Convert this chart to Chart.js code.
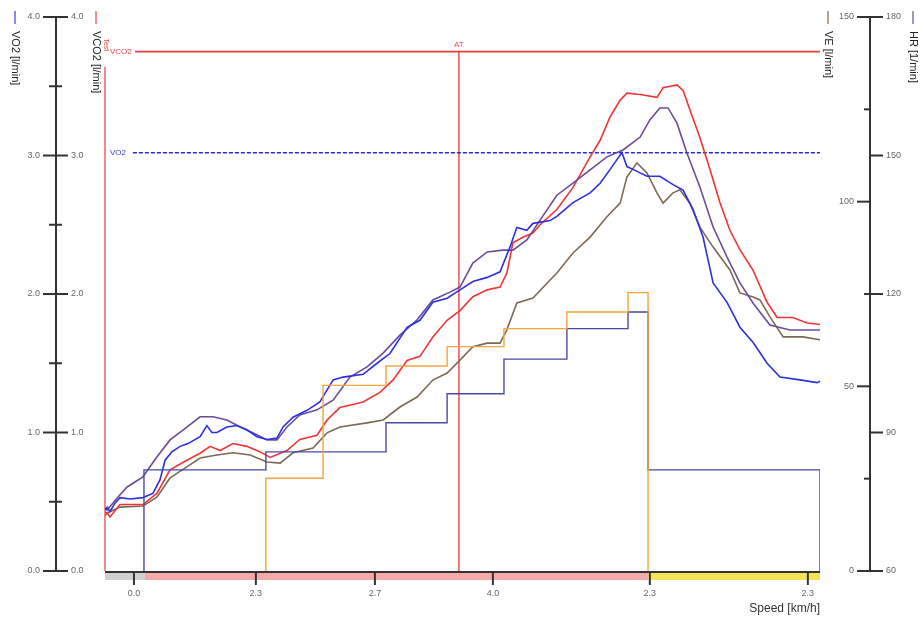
<!DOCTYPE html>
<html>
<head>
<meta charset="utf-8">
<script src="https://cdn.jsdelivr.net/npm/chart.js@4.4.1/dist/chart.umd.min.js"></script>
<style>
html, body { margin: 0; padding: 0; background: #fff; }
</style>
</head>
<body>
<canvas id="chart" width="921" height="619"></canvas>
<script>
// time in minutes
const vo2 = [[0,0.44],[0.06,0.46],[0.14,0.43],[0.28,0.49],[0.42,0.53],[0.7,0.52],[1.06,0.53],[1.34,0.56],[1.54,0.66],[1.68,0.80],[1.87,0.86],[2.1,0.90],[2.32,0.92],[2.66,0.97],[2.85,1.05],[2.99,1.00],[3.13,1.00],[3.41,1.04],[3.69,1.05],[3.97,1.02],[4.25,0.97],[4.53,0.95],[4.81,0.96],[4.98,1.04],[5.26,1.11],[5.65,1.16],[6.01,1.22],[6.38,1.38],[6.66,1.40],[7.22,1.42],[7.61,1.50],[7.97,1.57],[8.45,1.76],[8.81,1.81],[9.17,1.94],[9.57,1.97],[9.93,2.03],[10.29,2.09],[10.69,2.12],[11.05,2.16],[11.33,2.34],[11.52,2.48],[11.8,2.46],[11.97,2.51],[12.45,2.53],[12.64,2.56],[13.09,2.66],[13.57,2.73],[13.85,2.80],[14.13,2.90],[14.32,2.97],[14.46,3.02],[14.6,2.92],[14.77,2.90],[15.16,2.85],[15.52,2.85],[15.89,2.79],[16.17,2.75],[16.45,2.61],[16.73,2.41],[17.01,2.08],[17.4,1.94],[17.76,1.76],[18.13,1.65],[18.52,1.50],[18.88,1.40],[19.44,1.38],[19.92,1.36],[20,1.37]];
const vco2 = [[0,0.40],[0.06,0.42],[0.14,0.39],[0.42,0.48],[1.06,0.48],[1.45,0.56],[1.82,0.73],[2.29,0.80],[2.66,0.85],[2.94,0.90],[3.22,0.87],[3.58,0.92],[3.97,0.90],[4.34,0.86],[4.62,0.82],[5.09,0.87],[5.45,0.95],[5.93,0.98],[6.21,1.09],[6.57,1.18],[7.22,1.22],[7.69,1.29],[8.06,1.38],[8.45,1.52],[8.81,1.55],[9.17,1.69],[9.57,1.81],[9.93,1.88],[10.29,1.98],[10.69,2.03],[11.05,2.05],[11.24,2.15],[11.41,2.37],[11.69,2.41],[11.97,2.44],[12.17,2.50],[12.64,2.61],[13.09,2.77],[13.57,2.99],[13.85,3.11],[14.13,3.28],[14.41,3.40],[14.6,3.45],[14.97,3.44],[15.44,3.42],[15.61,3.49],[16.0,3.51],[16.17,3.47],[16.36,3.33],[16.64,3.13],[16.92,2.90],[17.2,2.66],[17.48,2.46],[17.76,2.32],[18.13,2.17],[18.52,1.94],[18.8,1.83],[19.24,1.83],[19.64,1.79],[20,1.78]];
const ve = [[0,16.0],[0.06,15.7],[0.42,17.3],[1.06,17.6],[1.45,20.0],[1.82,25.2],[2.29,28.2],[2.66,30.6],[3.13,31.4],[3.58,32.0],[4.06,31.4],[4.53,29.5],[4.9,29.2],[5.26,32.0],[5.82,33.3],[6.21,37.4],[6.57,39.0],[7.33,40.1],[7.78,40.9],[8.25,44.4],[8.73,47.1],[9.17,51.7],[9.57,53.6],[9.93,57.1],[10.29,60.7],[10.69,61.7],[11.05,61.7],[11.24,65.3],[11.52,72.6],[11.97,73.9],[12.45,78.8],[12.64,80.7],[13.09,86.1],[13.57,90.4],[14.04,95.9],[14.41,99.6],[14.6,106.7],[14.88,110.5],[15.16,107.8],[15.44,102.4],[15.61,99.6],[15.89,102.4],[16.08,103.2],[16.36,99.6],[16.64,93.1],[17.01,87.7],[17.48,81.5],[17.76,75.3],[18.13,74.2],[18.32,73.4],[18.6,68.8],[18.97,63.4],[19.52,63.4],[20,62.6]];
const hr = [[0,73.6],[0.06,73.2],[0.34,75.8],[0.62,78.2],[1.06,80.4],[1.45,84.7],[1.82,88.4],[2.18,90.5],[2.66,93.4],[3.02,93.4],[3.41,92.7],[3.78,91.2],[4.25,89.5],[4.53,88.4],[4.81,88.4],[5.09,91.2],[5.45,93.8],[5.93,94.9],[6.38,97.0],[6.85,102.0],[7.33,104.2],[7.78,107.2],[8.25,111.1],[8.73,114.4],[9.17,118.7],[9.65,120.4],[9.93,121.5],[10.29,126.7],[10.69,129.1],[11.13,129.5],[11.41,129.5],[11.8,131.7],[12.17,136.0],[12.64,141.4],[13.09,144.0],[13.57,146.9],[14.04,149.7],[14.49,151.2],[14.97,154.0],[15.24,157.7],[15.52,160.3],[15.75,160.3],[16.0,157.0],[16.28,150.5],[16.64,143.2],[17.01,134.5],[17.4,128.0],[17.76,122.4],[18.13,118.0],[18.6,113.3],[19.16,112.2],[20,112.2]];

// step protocols: [start time, level]
const loadSteps = [[1.09,0],[1.09,0.73],[4.50,0.86],[7.86,1.07],[9.57,1.28],[11.16,1.53],[12.92,1.75],[14.63,1.87],[15.19,0.73],[20,0]];
const inclineSteps = [[4.50,0],[4.50,0.67],[6.10,1.34],[7.86,1.48],[9.57,1.62],[11.16,1.75],[12.92,1.87],[14.63,2.01],[15.19,0]];

// reference markers
const vo2Ref = 3.02;
const vco2Ref = 3.75;
const atTime = 9.90;
const startMarker = [[0,0],[0,3.64]];

// speed ticks on the time axis
const speedTickTimes = [0.81, 4.22, 7.55, 10.85, 15.24, 19.66];
const speedTickLabels = ['0.0', '2.3', '2.7', '4.0', '2.3', '2.3'];

// phases: rest, exercise, recovery
const phaseStarts = [0, 1.12, 15.19];
const phaseEnds = [1.12, 15.19, 20];
const phaseColors = ['#cfcfcf', '#f6a9a9', '#f7e35a'];

const leftTicks = [0, 1, 2, 3, 4];
const veTicks = [0, 50, 100, 150];
const hrTicks = [60, 90, 120, 150, 180];

const pts = arr => arr.map(p => ({ x: p[0], y: p[1] }));

function line(label, data, color, axis, extra) {
    return Object.assign({
        label: label,
        data: pts(data),
        borderColor: color,
        borderWidth: 1.6,
        pointRadius: 0,
        tension: 0,
        fill: false,
        yAxisID: axis
    }, extra || {});
}

const guidesPlugin = {
    id: 'guides',
    beforeDatasetsDraw(chart) {
        const ctx = chart.ctx;
        const xs = chart.scales.x, ys = chart.scales.y;
        const y0 = ys.getPixelForValue(0);
        // phase band under the time axis
        phaseStarts.forEach((s, i) => {
            ctx.fillStyle = phaseColors[i];
            const a = xs.getPixelForValue(s), b = xs.getPixelForValue(phaseEnds[i]);
            ctx.fillRect(a, y0 + 2, b - a, 7);
        });
    },
    afterDraw(chart) {
        const ctx = chart.ctx;
        const xs = chart.scales.x, ys = chart.scales.y, vs = chart.scales.ve, hs = chart.scales.hr;
        const area = chart.chartArea;
        ctx.save();
        ctx.strokeStyle = '#333';
        ctx.fillStyle = '#666';
        ctx.font = '9px "Liberation Sans", Arial, sans-serif';
        ctx.textBaseline = 'middle';

        // left axis (VO2 left labels, VCO2 right labels)
        const lx = 56;
        ctx.lineWidth = 2;
        ctx.beginPath();
        ctx.moveTo(lx, ys.getPixelForValue(4));
        ctx.lineTo(lx, ys.getPixelForValue(0));
        ctx.stroke();
        leftTicks.forEach(v => {
            const py = ys.getPixelForValue(v);
            ctx.beginPath(); ctx.moveTo(lx - 13, py); ctx.lineTo(lx + 12, py); ctx.stroke();
            ctx.textAlign = 'right'; ctx.fillText(v.toFixed(1), lx - 16, py);
            ctx.textAlign = 'left'; ctx.fillText(v.toFixed(1), lx + 15, py);
            if (v < 4) {
                const pm = ys.getPixelForValue(v + 0.5);
                ctx.beginPath(); ctx.moveTo(lx - 7, pm); ctx.lineTo(lx + 6, pm); ctx.stroke();
            }
        });

        // right axis (VE left labels, HR right labels)
        const rx = 870;
        ctx.beginPath();
        ctx.moveTo(rx, vs.getPixelForValue(150));
        ctx.lineTo(rx, vs.getPixelForValue(0));
        ctx.stroke();
        veTicks.forEach(v => {
            const py = vs.getPixelForValue(v);
            ctx.beginPath(); ctx.moveTo(rx - 13, py); ctx.lineTo(rx, py); ctx.stroke();
            ctx.textAlign = 'right'; ctx.fillText(String(v), rx - 16, py);
            if (v < 150) {
                const pm = vs.getPixelForValue(v + 25);
                ctx.beginPath(); ctx.moveTo(rx - 6, pm); ctx.lineTo(rx, pm); ctx.stroke();
            }
        });
        hrTicks.forEach(v => {
            const py = hs.getPixelForValue(v);
            ctx.beginPath(); ctx.moveTo(rx, py); ctx.lineTo(rx + 13, py); ctx.stroke();
            ctx.textAlign = 'left'; ctx.fillText(String(v), rx + 16, py);
        });

        // time axis with speed labels
        const y0 = ys.getPixelForValue(0);
        ctx.beginPath();
        ctx.moveTo(area.left, y0 + 1);
        ctx.lineTo(area.right, y0 + 1);
        ctx.stroke();
        ctx.textAlign = 'center';
        speedTickTimes.forEach((t, i) => {
            const px = xs.getPixelForValue(t);
            ctx.beginPath(); ctx.moveTo(px, y0); ctx.lineTo(px, y0 + 14); ctx.stroke();
            ctx.fillText(speedTickLabels[i], px, y0 + 23);
        });
        ctx.fillStyle = '#333';
        ctx.font = '12px "Liberation Sans", Arial, sans-serif';
        ctx.textAlign = 'right';
        ctx.fillText('Speed [km/h]', area.right, y0 + 38);

        // rotated axis titles with colour keys
        const titles = [
            ['VO2 [l/min]', 15, '#3a3ad8'],
            ['VCO2 [l/min]', 96, '#ee4444'],
            ['VE [l/min]', 828, '#7b6a55'],
            ['HR [1/min]', 913, '#6b4c9a']
        ];
        ctx.font = '11px "Liberation Sans", Arial, sans-serif';
        titles.forEach(tt => {
            ctx.strokeStyle = tt[2];
            ctx.lineWidth = 1.2;
            ctx.beginPath(); ctx.moveTo(tt[1], 11); ctx.lineTo(tt[1], 24); ctx.stroke();
            ctx.save();
            ctx.translate(tt[1], 31);
            ctx.rotate(Math.PI / 2);
            ctx.fillStyle = '#222';
            ctx.textAlign = 'left';
            ctx.textBaseline = 'middle';
            ctx.fillText(tt[0], 0, 0);
            ctx.restore();
        });

        // marker labels
        ctx.font = '8px "Liberation Sans", Arial, sans-serif';
        ctx.textBaseline = 'middle';
        ctx.textAlign = 'left';
        ctx.fillStyle = '#ee4444';
        ctx.fillText('VCO2', xs.getPixelForValue(0) + 5, ys.getPixelForValue(vco2Ref));
        ctx.fillStyle = '#3a3ad8';
        ctx.fillText('VO2', xs.getPixelForValue(0) + 5, ys.getPixelForValue(vo2Ref));
        ctx.fillStyle = '#ee4444';
        ctx.textAlign = 'center';
        ctx.fillText('AT', xs.getPixelForValue(atTime), ys.getPixelForValue(vco2Ref) - 7);
        ctx.save();
        ctx.translate(xs.getPixelForValue(0) + 1, ys.getPixelForValue(startMarker[1][1]) - 22);
        ctx.rotate(Math.PI / 2);
        ctx.font = '7px "Liberation Sans", Arial, sans-serif';
        ctx.fillText('Test', 0, 0);
        ctx.restore();
        ctx.restore();
    }
};

const ctx = document.getElementById('chart').getContext('2d');
new Chart(ctx, {
    type: 'line',
    data: {
        datasets: [
            line('Incline', inclineSteps, '#f5a53c', 'y', { stepped: 'before', borderWidth: 1.4 }),
            line('Load', loadSteps, '#4a4aa6', 'y', { stepped: 'before', borderWidth: 1.4 }),
            line('VO2', vo2, '#2f2fe0', 'y'),
            line('HR', hr, '#6b4c9a', 'hr'),
            line('VCO2', vco2, '#ee3636', 'y'),
            line('VE', ve, '#7b6a55', 've'),
            line('VO2 ref', [[0.78, vo2Ref], [20, vo2Ref]], '#2a2ae6', 'y', { borderDash: [4, 2], borderWidth: 1.3 }),
            line('VCO2 ref', [[0.84, vco2Ref], [20, vco2Ref]], '#f23c3c', 'y', { borderWidth: 1.6 }),
            line('AT', [[atTime, 0], [atTime, vco2Ref]], '#ee3333', 'y', { borderWidth: 1.3 }),
            line('Start', startMarker, '#f26a6a', 'y', { borderWidth: 1.6, clip: false })
        ]
    },
    options: {
        responsive: false,
        animation: false,
        events: [],
        layout: { padding: { left: 105, right: 101, top: 17, bottom: 48 } },
        plugins: { legend: { display: false }, tooltip: { enabled: false } },
        scales: {
            x: { type: 'linear', min: 0, max: 20, display: false },
            y: { type: 'linear', min: 0, max: 4, display: false },
            ve: { type: 'linear', min: 0, max: 150, display: false },
            hr: { type: 'linear', min: 60, max: 180, display: false }
        }
    },
    plugins: [guidesPlugin]
});
</script>
</body>
</html>
